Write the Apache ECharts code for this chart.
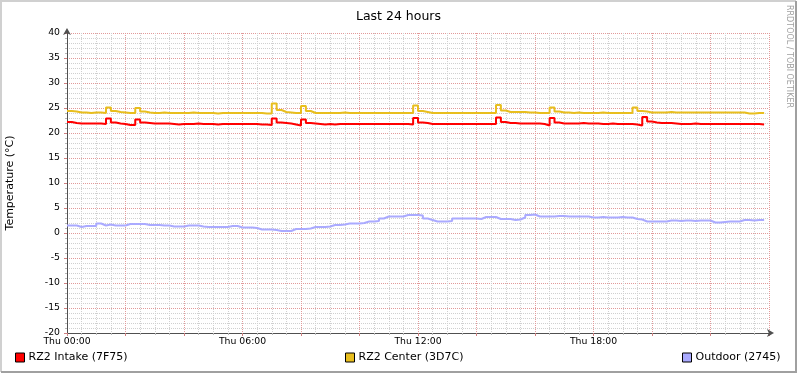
<!DOCTYPE html>
<html lang="en">
<head>
	<meta charset="utf-8" />
	<title>Last 24 hours</title>
	<style type="text/css">
		html,body{margin:0;padding:0;background:#FFF;}
		#chart{width:797px;height:373px;}
	</style>
</head>
<body>
	<div id="chart"></div>
<script src="https://cdn.jsdelivr.net/npm/echarts@6/dist/echarts.min.js"></script>
<script>
	// one sample every 10 minutes, Thu 00:00 .. 23:50
	var stepMinutes = 10;
	var timeLabels = ['Thu 00:00', 'Thu 06:00', 'Thu 12:00', 'Thu 18:00'];
	var seriesNames = ['RZ2 Intake (7F75)', 'RZ2 Center (3D7C)', 'Outdoor (2745)'];

	var intake = [
		22.2, 22.0, 21.9, 21.9, 21.9, 21.9, 21.9, 21.8, 22.9, 22.1, 21.9, 21.8,
		21.6, 21.6, 22.7, 22.1, 22.0, 21.9, 21.9, 21.9, 21.9, 21.8, 21.7, 21.8,
		21.8, 21.8, 21.9, 21.8, 21.8, 21.8, 21.7, 21.8, 21.8, 21.8, 21.8, 21.8,
		21.8, 21.8, 21.8, 21.7, 21.7, 21.6, 22.9, 22.1, 22.0, 21.9, 21.7, 21.5,
		22.7, 22.0, 21.9, 21.8, 21.7, 21.8, 21.7, 21.8, 21.8, 21.8, 21.8, 21.8,
		21.8, 21.8, 21.8, 21.8, 21.8, 21.8, 21.8, 21.8, 21.8, 21.8, 21.7, 23.0,
		22.1, 22.0, 21.8, 21.8, 21.8, 21.8, 21.8, 21.8, 21.8, 21.8, 21.8, 21.8,
		21.8, 21.8, 21.8, 21.8, 23.1, 22.2, 22.0, 22.0, 21.9, 21.9, 21.9, 21.9,
		21.9, 21.8, 21.5, 23.0, 22.1, 21.9, 21.9, 21.9, 21.9, 22.0, 21.9, 21.9,
		21.9, 21.8, 21.8, 21.9, 21.8, 21.8, 21.8, 21.8, 21.7, 21.5, 23.2, 22.3,
		22.1, 22.0, 22.0, 22.0, 21.9, 21.8, 21.8, 21.8, 21.9, 21.8, 21.8, 21.8,
		21.8, 21.8, 21.8, 21.8, 21.8, 21.8, 21.8, 21.8, 21.8, 21.8, 21.7, 21.7
	];
	var center = [
		24.4, 24.3, 24.1, 24.1, 24.0, 24.1, 24.1, 24.0, 25.1, 24.4, 24.2, 24.1,
		24.0, 24.0, 25.0, 24.3, 24.1, 24.0, 24.0, 24.1, 24.0, 24.0, 24.0, 24.0,
		24.0, 24.1, 24.0, 24.0, 24.0, 24.0, 23.9, 24.0, 24.0, 24.0, 24.0, 24.0,
		24.0, 24.0, 24.0, 24.0, 23.9, 23.9, 25.9, 24.6, 24.2, 24.1, 24.0, 24.0,
		25.4, 24.4, 24.0, 24.0, 24.0, 24.0, 24.0, 24.0, 24.1, 24.0, 24.0, 24.0,
		24.0, 24.0, 24.0, 24.0, 24.0, 24.0, 24.0, 24.0, 24.0, 24.0, 24.0, 25.5,
		24.4, 24.2, 24.0, 24.0, 24.0, 24.0, 24.0, 24.0, 24.0, 24.0, 24.0, 24.0,
		24.0, 24.0, 24.0, 24.0, 25.6, 24.5, 24.2, 24.2, 24.2, 24.2, 24.1, 24.1,
		24.0, 24.0, 24.0, 25.1, 24.3, 24.1, 24.1, 24.0, 24.1, 24.0, 24.0, 24.0,
		24.0, 24.1, 24.0, 24.0, 24.0, 24.0, 24.0, 24.0, 25.1, 24.4, 24.3, 24.1,
		24.1, 24.1, 24.1, 24.2, 24.1, 24.1, 24.1, 24.1, 24.1, 24.1, 24.1, 24.1,
		24.1, 24.1, 24.1, 24.1, 24.1, 24.1, 24.1, 23.9, 23.9, 24.0, 24.0, 24.0
	];
	var outdoor = [
		1.5, 1.5, 1.2, 1.4, 1.4, 1.4, 1.9, 1.5, 1.7, 1.5, 1.5, 1.5,
		1.8, 1.8, 1.8, 1.8, 1.6, 1.6, 1.6, 1.5, 1.5, 1.3, 1.3, 1.3,
		1.5, 1.5, 1.5, 1.3, 1.2, 1.2, 1.2, 1.2, 1.2, 1.4, 1.4, 1.1,
		1.1, 1.1, 1.0, 0.7, 0.7, 0.7, 0.6, 0.4, 0.4, 0.4, 0.8, 0.8,
		0.8, 0.9, 1.2, 1.2, 1.2, 1.3, 1.6, 1.6, 1.7, 1.9, 1.9, 1.9,
		2.0, 2.3, 2.3, 2.4, 2.9, 3.3, 3.3, 3.3, 3.3, 3.6, 3.6, 3.6,
		3.5, 2.9, 2.6, 2.3, 2.3, 2.3, 2.4, 2.9, 2.9, 2.9, 2.9, 2.9,
		2.8, 3.2, 3.2, 3.2, 2.8, 2.8, 2.8, 2.6, 2.7, 3.1, 3.6, 3.7,
		3.3, 3.3, 3.3, 3.3, 3.4, 3.4, 3.3, 3.3, 3.3, 3.3, 3.3, 3.1,
		3.1, 3.2, 3.1, 3.1, 3.1, 3.2, 3.1, 3.1, 2.8, 2.7, 2.3, 2.3,
		2.3, 2.3, 2.3, 2.5, 2.5, 2.4, 2.5, 2.5, 2.4, 2.5, 2.5, 2.5,
		2.1, 2.1, 2.2, 2.3, 2.3, 2.3, 2.6, 2.6, 2.5, 2.6, 2.6, 2.6
	];
	var colors = ['#FF0000', '#E8BE1E', '#AAAAFF'];

	// pair each sample with its hour of the day
	function toPoints(values) {
		var pts = [];
		for (var i = 0; i < values.length; i++) {
			pts.push([i * stepMinutes / 60, values[i]]);
		}
		return pts;
	}

	var font = 'DejaVu Sans';
	// plot is 702 x 300 px, both even, so the dotted pattern keeps its phase from line to line.
	// minor lines sit only between the major ones, so nothing covers the red grid
	var majorGrid = {show: true, showMinLine: true, showMaxLine: true, lineStyle: {color: '#E29A9A', type: [1, 1], width: 1}};
	var minorGrid = {show: true, lineStyle: {color: '#D0D0D0', type: [1, 1], width: 1}};

	function makeSeries(idx, values) {
		return {
			name: seriesNames[idx],
			type: 'line',
			step: 'end',
			showSymbol: false,
			symbol: 'none',
			data: toPoints(values),
			lineStyle: {color: colors[idx], width: 2},
			itemStyle: {color: colors[idx]},
			z: 5
		};
	}

	function makeLegend(idx, left) {
		return {
			data: [seriesNames[idx]],
			left: left,
			top: 352,
			padding: 0,
			icon: 'rect',
			itemWidth: 9,
			itemHeight: 9,
			itemGap: 4,
			itemStyle: {borderColor: '#000', borderWidth: 1},
			textStyle: {fontFamily: font, fontSize: 11, color: '#000', padding: [0, 0, 0, -1]}
		};
	}

	var axisLine = {
		show: true,
		onZero: false,
		symbol: ['none', 'arrow'],
		symbolSize: [6, 7],
		symbolOffset: [0, 5],
		lineStyle: {color: '#505050', width: 1}
	};

	var chart = echarts.init(document.getElementById('chart'));
	chart.setOption({
		animation: false,
		backgroundColor: '#FFFFFF',
		title: {
			text: 'Last 24 hours',
			left: 'center',
			top: 5,
			textStyle: {fontFamily: font, fontSize: 12.5, fontWeight: 'normal', color: '#000'}
		},
		grid: {left: 67, right: 28, top: 33, bottom: 40, containLabel: false, outerBoundsMode: 'none'},
		legend: [makeLegend(0, 15), makeLegend(1, 345), makeLegend(2, 682)],
		// red grid every 2 h, grey every 30 min
		xAxis: {
			type: 'value',
			min: 0,
			max: 24,
			interval: 2,
			axisLine: axisLine,
			axisTick: {show: true, length: 3, lineStyle: {color: '#D08080'}},
			minorTick: {show: true, splitNumber: 4, length: 2, lineStyle: {color: '#B8B8B8'}},
			splitLine: majorGrid,
			minorSplitLine: minorGrid,
			axisLabel: {
				fontFamily: font,
				fontSize: 9.3,
				color: '#000',
				margin: 4,
				formatter: function (v) {
					if (v % 6 !== 0 || v >= 24) return '';
					return timeLabels[v / 6];
				}
			}
		},
		// red grid every 5 degrees, grey every degree
		yAxis: {
			type: 'value',
			min: -20,
			max: 40,
			interval: 5,
			name: 'Temperature (°C)',
			nameLocation: 'middle',
			nameRotate: 90,
			nameGap: 51,
			nameTextStyle: {fontFamily: font, fontSize: 11, color: '#000'},
			axisLine: axisLine,
			axisTick: {show: true, length: 3, lineStyle: {color: '#D08080'}},
			minorTick: {show: true, splitNumber: 5, length: 2, lineStyle: {color: '#B8B8B8'}},
			splitLine: majorGrid,
			minorSplitLine: minorGrid,
			axisLabel: {fontFamily: font, fontSize: 9.3, color: '#000', margin: 7}
		},
		series: [
			makeSeries(0, intake),
			makeSeries(1, center),
			makeSeries(2, outdoor)
		],
		graphic: [
			// rrdtool style frame
			{type: 'polyline', shape: {points: [[1, 372], [1, 1], [796, 1]]}, style: {stroke: '#D0D0D0', lineWidth: 2, fill: null}, silent: true},
			{type: 'polyline', shape: {points: [[796, 1], [796, 372], [1, 372]]}, style: {stroke: '#A0A0A0', lineWidth: 2, fill: null}, silent: true},
			{
				type: 'text',
				x: 789,
				y: 5,
				rotation: -Math.PI / 2,
				style: {text: 'RRDTOOL / TOBI OETIKER', fontFamily: font, fontSize: 8, fill: '#A0A0A0', textAlign: 'left', textVerticalAlign: 'middle'},
				silent: true
			}
		]
	});
</script>
</body>
</html>
